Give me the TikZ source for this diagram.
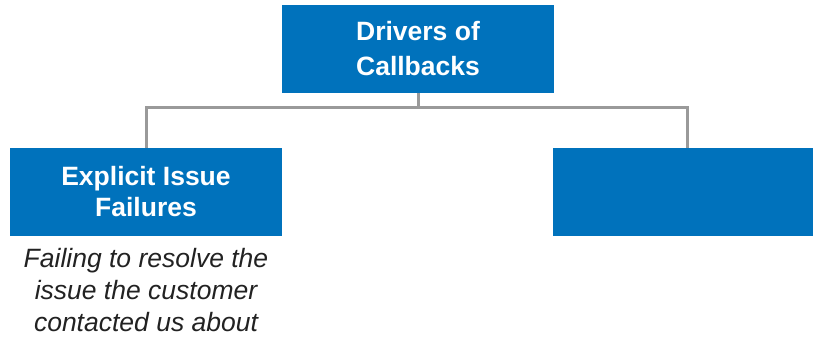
\documentclass[tikz,border=0pt]{standalone}
\usepackage{fontspec}
\setmainfont{Liberation Sans}
\usepackage{xcolor}
\usetikzlibrary{positioning}

\definecolor{boxblue}{HTML}{0072BC}
\definecolor{linegray}{HTML}{9A9A9A}
\definecolor{notegray}{HTML}{222222}

\tikzset{
    driverbox/.style={fill=boxblue, text=white, align=center,
        minimum width=272, minimum height=88, inner sep=0pt,
        font=\bfseries\fontsize{26.5}{31}\selectfont},
    treeline/.style={draw=linegray, line width=3pt}
}

\begin{document}
\begin{tikzpicture}[x=1pt, y=-1pt]
        % \draw[style=help lines, step=50] (0, 0) grid (813, 339);
        \useasboundingbox (0, 0) rectangle (813, 339);
        \node[driverbox, font=\bfseries\fontsize{26.5}{35}\selectfont]
            (drivers) at (418, 49) {Drivers of\\Callbacks};
        \node[driverbox] (explicit) at (146, 192) {Explicit Issue\\Failures};
        \node[driverbox, minimum width=268] (other) at (687, 192) {};
        \node[below=12pt of explicit, align=center, text=notegray, inner sep=0pt,
            font=\itshape\fontsize{26.5}{32}\selectfont] (explicitnote)
            {Failing to resolve the\\issue the customer\\contacted us about};
        \draw[treeline]
            (drivers.south) -- ++(0, 14) coordinate (split)
            (split) -| (explicit.north)
            (split) -| (other.north);
    \end{tikzpicture}
\end{document}
